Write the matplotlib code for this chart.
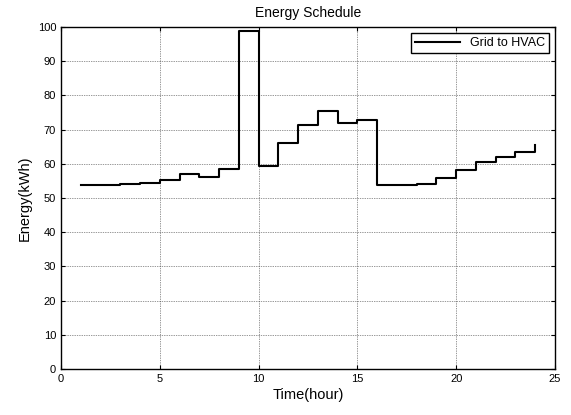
import matplotlib
matplotlib.use("Agg")
import matplotlib.pyplot as plt

plt.rcParams['font.family'] = ['Liberation Sans', 'DejaVu Sans']

hours = list(range(1, 25))
grid_to_hvac = [53.7, 53.7, 54.0, 54.4, 55.3, 56.9, 56.2, 58.6, 98.7, 59.4,
                66.0, 71.4, 75.3, 71.8, 72.8, 53.8, 53.8, 54.0, 55.8, 58.3,
                60.6, 62.0, 63.5, 65.6]

fig = plt.figure(figsize=(5.71, 4.15), dpi=100)
ax = fig.add_axes([0.1068, 0.1108, 0.8652, 0.8242])

ax.step(hours, grid_to_hvac, where='post', color='black', linewidth=1.5, label='Grid to HVAC')

ax.set_xlim(0, 25)
ax.set_ylim(0, 100)
ax.set_xticks(range(0, 26, 5))
ax.set_yticks(range(0, 101, 10))
ax.tick_params(direction='in', length=3, labelsize=8, width=0.8, top=True, right=True)
ax.grid(True, color='#333333', linestyle=(0, (1, 1.5)), linewidth=0.5)
for s in ax.spines.values():
    s.set_linewidth(1.0)

ax.set_title('Energy Schedule', fontsize=10, pad=7)
ax.set_xlabel('Time(hour)', fontsize=10.5, labelpad=3)
ax.set_ylabel('Energy(kWh)', fontsize=10.5, labelpad=4)

leg = ax.legend(loc='upper right', fontsize=9, fancybox=False, framealpha=1,
                edgecolor='black', handlelength=3.6, borderpad=0.35,
                borderaxespad=0.45)
leg.get_frame().set_linewidth(1.0)

fig.savefig('out.png', dpi=100)
